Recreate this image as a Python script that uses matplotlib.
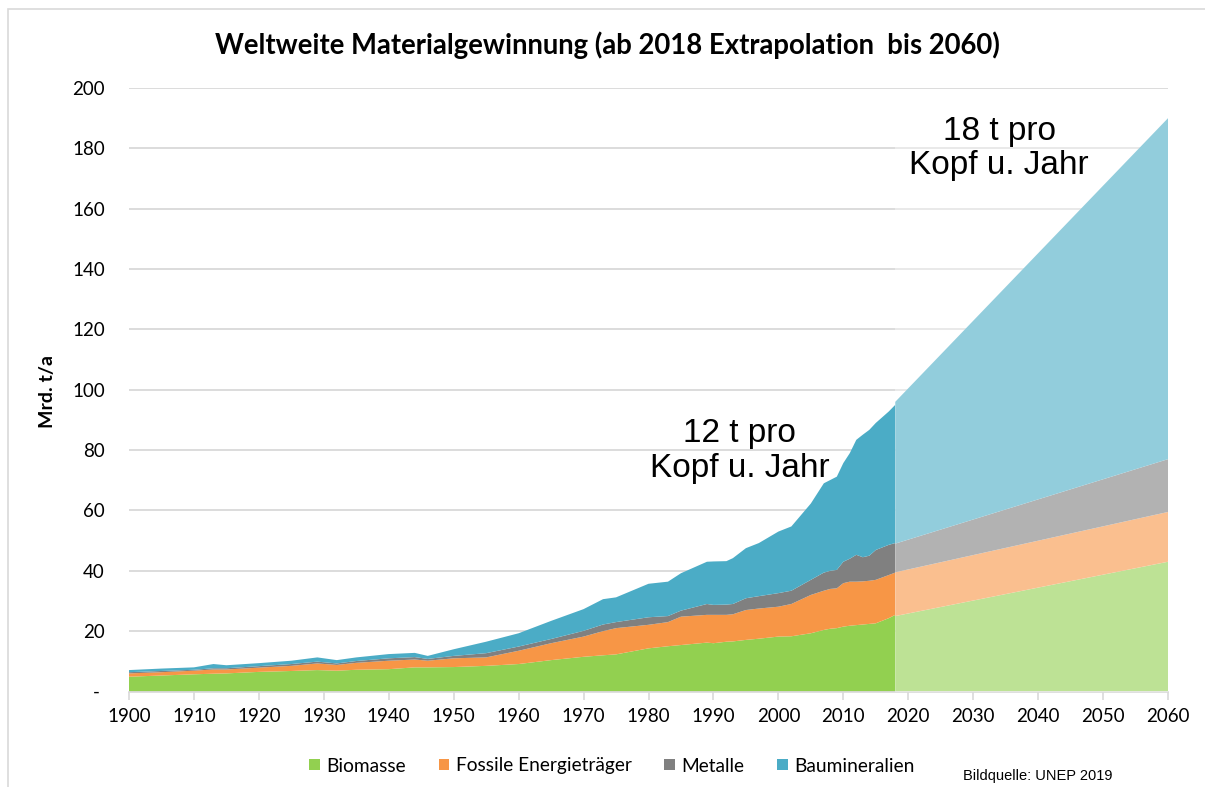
import matplotlib
matplotlib.use("Agg")
import matplotlib.pyplot as plt
from matplotlib.patches import Rectangle, Patch
from matplotlib.ticker import FixedLocator, FuncFormatter

# ---------------- data (Mrd. t/a) ----------------
years = [1900, 1905, 1910, 1913, 1915, 1920, 1925, 1929, 1932, 1935, 1940, 1944,
         1946, 1950, 1955, 1960, 1965, 1970, 1973, 1975, 1980, 1983, 1985, 1989,
         1990, 1992, 1993, 1995, 1997, 2000, 2002, 2005, 2007, 2008, 2009, 2010,
         2011, 2012, 2013, 2014, 2015, 2017, 2018]
biomasse = [4.9, 5.3, 5.7, 5.9, 6.0, 6.5, 6.8, 7.1, 6.9, 7.2, 7.4, 8.0,
            8.0, 8.1, 8.5, 9.1, 10.4, 11.5, 12.0, 12.3, 14.3, 15.0, 15.4, 16.2,
            16.0, 16.5, 16.6, 17.1, 17.5, 18.2, 18.3, 19.3, 20.4, 20.8, 21.0, 21.5,
            21.8, 22.0, 22.2, 22.4, 22.6, 24.3, 25.4]
fossile = [1.1, 1.1, 1.2, 1.4, 1.3, 1.4, 1.7, 2.2, 1.9, 2.3, 2.8, 2.6,
           2.2, 2.9, 2.8, 4.4, 5.6, 6.7, 8.0, 8.7, 7.8, 8.0, 9.4, 9.2,
           9.4, 8.9, 9.0, 9.9, 10.0, 9.9, 10.7, 12.7, 13.0, 13.2, 13.2, 14.4,
           14.6, 14.4, 14.3, 14.3, 14.4, 14.3, 14.0]
metalle = [0.4, 0.4, 0.3, 0.4, 0.4, 0.5, 0.6, 0.6, 0.5, 0.6, 0.8, 0.8,
           0.6, 0.8, 1.4, 1.4, 1.4, 1.9, 2.2, 2.0, 2.5, 2.0, 2.0, 3.6,
           3.3, 3.4, 3.4, 3.9, 4.1, 4.5, 4.4, 5.0, 6.0, 6.0, 6.1, 7.1,
           7.6, 8.9, 8.0, 8.3, 9.9, 10.0, 9.8]
baumineralien = [0.7, 0.8, 0.8, 1.4, 1.0, 1.0, 1.1, 1.4, 1.1, 1.2, 1.4, 1.4,
                 1.0, 2.2, 3.8, 4.4, 6.0, 7.2, 8.4, 8.2, 11.1, 11.4, 12.4, 14.0,
                 14.4, 14.4, 15.2, 16.6, 17.6, 20.4, 21.3, 25.3, 29.6, 30.1, 30.9, 32.7,
                 35.0, 38.1, 40.6, 41.7, 42.1, 44.2, 45.8]

# extrapolation 2018 -> 2060
ext_years = [2018, 2060]
ext_biomasse = [25.0, 43.0]
ext_fossile = [14.5, 16.5]
ext_metalle = [9.5, 17.5]
ext_baumineralien = [47.0, 113.0]

labels = ["Biomasse", "Fossile Energieträger", "Metalle", "Baumineralien"]
colors = ["#92D050", "#F79646", "#808080", "#4BACC6"]

x_ticks = list(range(1900, 2061, 10))
y_ticks = list(range(0, 201, 20))

# ---------------- figure ----------------
fig = plt.figure(figsize=(12.05, 7.87), dpi=100)
ax = fig.add_axes([129 / 1205, 1 - 691.5 / 787, (1168 - 129) / 1205, (691.5 - 88) / 787])

ax.stackplot(years, biomasse, fossile, metalle, baumineralien,
             colors=colors, linewidth=0, zorder=2)
ax.stackplot(ext_years, ext_biomasse, ext_fossile, ext_metalle, ext_baumineralien,
             colors=colors, linewidth=0, zorder=2)
# lighten extrapolated part
ax.add_patch(Rectangle((2018, 0), 42, 190, facecolor="white", alpha=0.4,
                       edgecolor="none", zorder=3))

ax.set_xlim(1900, 2060)
ax.set_ylim(0, 200)
ax.yaxis.set_major_locator(FixedLocator(y_ticks))
ax.xaxis.set_major_locator(FixedLocator(x_ticks))
ax.yaxis.set_major_formatter(FuncFormatter(lambda v, p: "- " if v == 0 else f"{int(v)}"))
ax.grid(axis="y", color="#D9D9D9", linewidth=1.3, zorder=0)
ax.set_axisbelow(True)
for s in ["top", "right", "left"]:
    ax.spines[s].set_visible(False)
ax.spines["bottom"].set_color("#D9D9D9")
ax.spines["bottom"].set_linewidth(1.2)
ax.tick_params(axis="y", length=0, pad=17.5, labelsize=13.5, labelcolor="black")
ax.tick_params(axis="x", length=6, width=1.2, color="#D9D9D9", pad=6,
               labelsize=13.5, labelcolor="black")
for lab in ax.get_xticklabels() + ax.get_yticklabels():
    lab.set_fontfamily("Lato")

ax.text(1994.0, 79.8, "12 t pro\nKopf u. Jahr", ha="center", va="center",
        fontsize=24, family="Liberation Sans", linespacing=1.15, zorder=5)
ax.text(2034.0, 180.0, "18 t pro\nKopf u. Jahr", ha="center", va="center",
        fontsize=24, family="Liberation Sans", linespacing=1.15, zorder=5)

fig.text(607 / 1205, 1 - 45 / 787,
         "Weltweite Materialgewinnung (ab 2018 Extrapolation  bis 2060)",
         ha="center", va="center", fontsize=19.8, fontweight="bold", family="Lato")
fig.text(48 / 1205, 1 - 391 / 787, "Mrd. t/a", rotation=90, ha="center",
         va="center", fontsize=14, fontweight="bold", family="Lato")

handles = [Patch(facecolor=c, edgecolor="none") for c in colors]
fig.legend(handles, labels, loc="center", bbox_to_anchor=(612 / 1205, 1 - 766 / 787),
           ncol=4, frameon=False, prop={"family": "Lato", "size": 13.8},
           handlelength=0.55, handleheight=0.55, handletextpad=0.35,
           columnspacing=1.7, borderpad=0)

fig.text(963 / 1205, 1 - 776 / 787, "Bildquelle: UNEP 2019", ha="left",
         va="center", fontsize=10.5, family="Liberation Sans")

# light frame
fig.patches.append(Rectangle((8 / 1205, -0.05), 1.2, 1 - 9 / 787 + 0.05,
                             transform=fig.transFigure, fill=False,
                             edgecolor="#D9D9D9", linewidth=1.2))

fig.savefig("out.png", dpi=100)
